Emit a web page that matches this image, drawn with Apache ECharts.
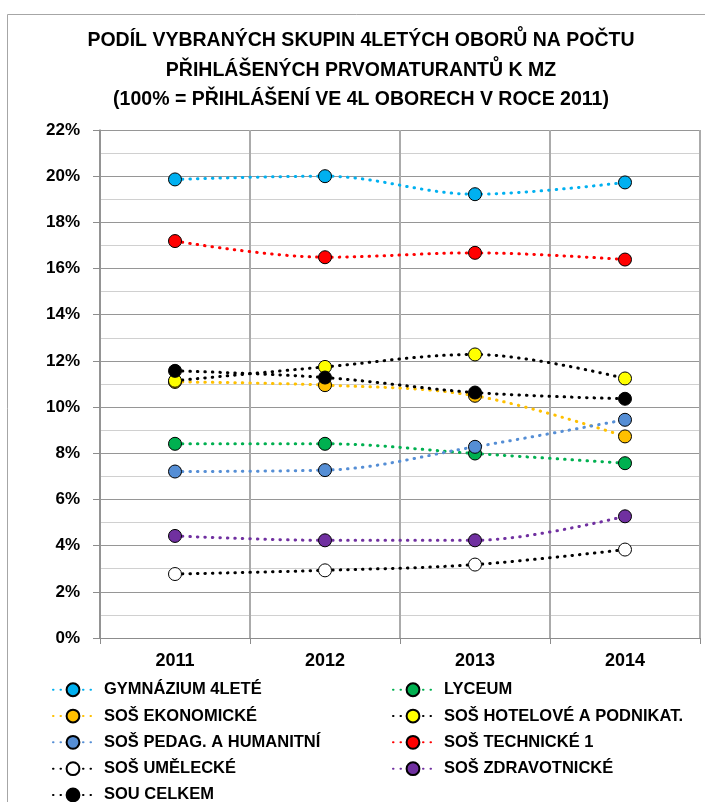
<!DOCTYPE html>
<html>
<head>
<meta charset="utf-8">
<script src="https://cdn.jsdelivr.net/npm/echarts@6/dist/echarts.min.js"></script>
<style>
html,body{margin:0;padding:0;background:#fff;}
#chart{width:705px;height:802px;}
</style>
</head>
<body>
<div id="chart"></div>
<script>
const years = ['2011', '2012', '2013', '2014'];
const gymnazium = [19.86, 20.00, 19.22, 19.73];
const lyceum = [8.41, 8.41, 7.99, 7.57];
const ekonomicke = [11.09, 10.95, 10.49, 8.73];
const hotelove = [11.14, 11.74, 12.28, 11.24];
const pedag = [7.21, 7.27, 8.28, 9.45];
const technicke = [17.19, 16.49, 16.68, 16.39];
const umelecke = [2.77, 2.93, 3.18, 3.83];
const zdravotnicke = [4.42, 4.23, 4.23, 5.27];
const souCelkem = [11.57, 11.28, 10.63, 10.36];
const yTicks = [0, 2, 4, 6, 8, 10, 12, 14, 16, 18, 20, 22];

const FONT = '"Liberation Sans", Arial, sans-serif';

function mk(name, data, lineColor, fillColor) {
  return {
    name: name,
    type: 'line',
    data: data,
    smooth: 0.35,
    symbol: 'circle',
    symbolSize: 13,
    lineStyle: { color: lineColor, width: 3, type: [0.5, 7], cap: 'round' },
    itemStyle: { color: fillColor, borderColor: '#000', borderWidth: 1 },
    emphasis: { disabled: true }
  };
}

const series = [
  mk('GYMNÁZIUM 4LETÉ', gymnazium, '#00B0F0', '#00B0F0'),
  mk('LYCEUM', lyceum, '#00B050', '#00B050'),
  mk('SOŠ EKONOMICKÉ', ekonomicke, '#FFC000', '#FFC000'),
  mk('SOŠ HOTELOVÉ A PODNIKAT.', hotelove, '#000000', '#FFFF00'),
  mk('SOŠ PEDAG. A HUMANITNÍ', pedag, '#558ED5', '#558ED5'),
  mk('SOŠ TECHNICKÉ 1', technicke, '#FF0000', '#FF0000'),
  mk('SOŠ UMĚLECKÉ', umelecke, '#000000', '#FFFFFF'),
  mk('SOŠ ZDRAVOTNICKÉ', zdravotnicke, '#7030A0', '#7030A0'),
  mk('SOU CELKEM', souCelkem, '#000000', '#000000')
];

const legendCommon = {
  orient: 'vertical',
  top: 681,
  height: 160,
  padding: 0,
  itemWidth: 40,
  itemHeight: 16,
  itemGap: 8.8,
  selectedMode: false,
  textStyle: { fontFamily: FONT, fontWeight: 'bold', fontSize: 16.5, lineHeight: 17.5, color: '#000', padding: [0, 0, 0, 6] }
};

const chart = echarts.init(document.getElementById('chart'), null, { renderer: 'canvas' });
chart.setOption({
  animation: false,
  backgroundColor: '#fff',
  graphic: [
    { type: 'rect', shape: { x: 7.5, y: 14.5, width: 720, height: 820 }, style: { fill: 'none', stroke: '#a6a6a6', lineWidth: 1 }, silent: true },
    { type: 'text', x: 361, y: 26, style: { text: 'PODÍL VYBRANÝCH SKUPIN 4LETÝCH OBORŮ NA POČTU\nPŘIHLÁŠENÝCH PRVOMATURANTŮ K MZ\n(100% = PŘIHLÁŠENÍ VE 4L OBORECH V ROCE 2011)', align: 'center', verticalAlign: 'top', font: 'bold 19.5px ' + FONT, lineHeight: 29.5, fill: '#000' }, silent: true }
  ],
  grid: { left: 100, right: 5, top: 130, bottom: 164, containLabel: false },
  legend: [
    Object.assign({}, legendCommon, { left: 52, data: ['GYMNÁZIUM 4LETÉ', 'SOŠ EKONOMICKÉ', 'SOŠ PEDAG. A HUMANITNÍ', 'SOŠ UMĚLECKÉ', 'SOU CELKEM'] }),
    Object.assign({}, legendCommon, { left: 392, data: ['LYCEUM', 'SOŠ HOTELOVÉ A PODNIKAT.', 'SOŠ TECHNICKÉ 1', 'SOŠ ZDRAVOTNICKÉ'] })
  ],
  xAxis: {
    type: 'category',
    data: years,
    boundaryGap: true,
    axisLine: { show: true, lineStyle: { color: '#8c8c8c', width: 1 } },
    axisTick: { show: true, length: 6, lineStyle: { color: '#8c8c8c' } },
    axisLabel: { fontFamily: FONT, fontWeight: 'bold', fontSize: 18, color: '#000', margin: 14 },
    splitLine: { show: true, lineStyle: { color: '#ababab', width: 2 } }
  },
  yAxis: {
    type: 'value',
    min: 0,
    max: 22,
    interval: 2,
    axisLine: { show: true, lineStyle: { color: '#8c8c8c', width: 1.5 } },
    axisTick: { show: true, length: 7, lineStyle: { color: '#8c8c8c' } },
    axisLabel: {
      fontFamily: FONT, fontWeight: 'bold', fontSize: 17, color: '#000', margin: 20,
      formatter: function (v) { return yTicks.indexOf(v) >= 0 ? v + '%' : ''; }
    },
    splitLine: { show: true, lineStyle: { color: '#969696', width: 1.2 } },
    minorTick: { show: false, splitNumber: 2 },
    minorSplitLine: { show: true, lineStyle: { color: '#d0d0d0', width: 1.2 } }
  },
  series: series
});
</script>
</body>
</html>
